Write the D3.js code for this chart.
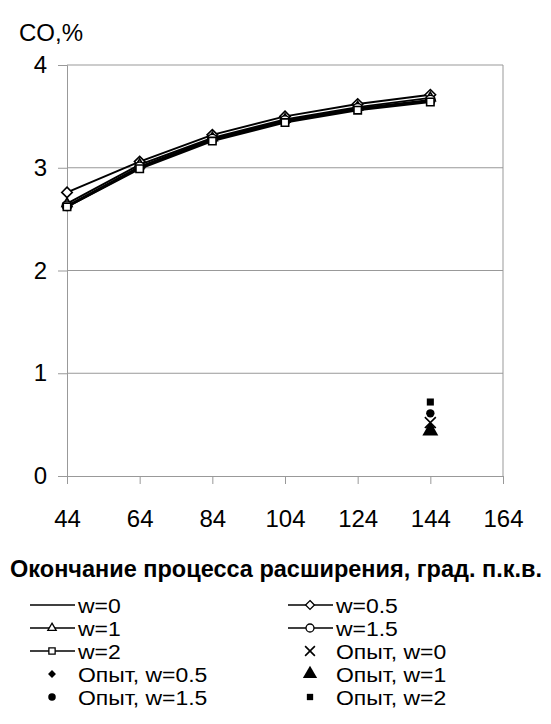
<!DOCTYPE html>
<html><head><meta charset="utf-8">
<script src="https://cdn.jsdelivr.net/npm/d3@7"></script>
<style>body{margin:0;background:#fff}svg{display:block}text{font-family:"Liberation Sans",Arial,sans-serif;fill:#000}</style>
</head><body><svg id="c" width="551" height="724"></svg>
<script>
const xCats = [44, 64, 84, 104, 124, 144];
const xTicks = [44, 64, 84, 104, 124, 144, 164];
const yTicks = [0, 1, 2, 3, 4];
const w0   = [2.62, 3.00, 3.27, 3.45, 3.57, 3.65];
const w05  = [2.76, 3.06, 3.32, 3.50, 3.62, 3.71];
const w1   = [2.65, 3.03, 3.29, 3.47, 3.59, 3.68];
const w15  = [2.63, 3.01, 3.28, 3.46, 3.58, 3.66];
const w2   = [2.62, 2.99, 3.26, 3.44, 3.56, 3.64];
const expX = 144;
const exp0 = 0.52, exp05 = 0.47, exp1 = 0.44, exp15 = 0.61, exp2 = 0.72;

const svg = d3.select("#c");
const x = d3.scaleLinear().domain([44, 164]).range([67, 503]);
const y = d3.scaleLinear().domain([0, 4]).range([476, 65]);
const grid = "#999";
const FONT = "Liberation Sans, Arial, sans-serif";

svg.append("g").selectAll("line").data(yTicks.slice(1)).join("line")
  .attr("x1", 67).attr("x2", 503).attr("y1", d => y(d)).attr("y2", d => y(d))
  .attr("stroke", grid).attr("stroke-width", 1);
svg.append("line").attr("x1", 503).attr("x2", 503).attr("y1", 65).attr("y2", 476).attr("stroke", grid);

const yAxis = svg.append("g").attr("transform", "translate(67,0)")
  .call(d3.axisLeft(y).tickValues(yTicks).tickSize(9).tickPadding(11).tickFormat(d3.format("d")));
const xAxis = svg.append("g").attr("transform", "translate(0,476)")
  .call(d3.axisBottom(x).tickValues(xTicks).tickSize(8).tickPadding(26).tickFormat(d3.format("d")));
[yAxis, xAxis].forEach(a => {
  a.select(".domain").attr("stroke", grid);
  a.selectAll(".tick line").attr("stroke", grid);
  a.selectAll(".tick text").attr("font-size", 24).attr("font-family", FONT);
});

svg.append("text").attr("x", 19).attr("y", 41).attr("font-size", 24).text("CO,%");
svg.append("text").attr("x", 276).attr("y", 577).attr("text-anchor", "middle")
  .attr("font-size", 23.5).attr("font-weight", "bold").text("Окончание процесса расширения, град. п.к.в.");

const line = d3.line().x((d, i) => x(xCats[i])).y(d => y(d));
const series = [
  {name: "w=0", vals: w0, sym: null},
  {name: "w=0.5", vals: w05, sym: d3.symbolDiamond2},
  {name: "w=1", vals: w1, sym: d3.symbolTriangle2},
  {name: "w=1.5", vals: w15, sym: d3.symbolCircle},
  {name: "w=2", vals: w2, sym: d3.symbolSquare2}
];
const symPath = (s, size) => d3.symbol().type(s).size(size)();
series.forEach(s => {
  svg.append("path").attr("d", line(s.vals)).attr("fill", "none").attr("stroke", "#000").attr("stroke-width", 2);
});
series.forEach(s => {
  if (!s.sym) return;
  svg.append("g").selectAll("path").data(s.vals).join("path")
    .attr("transform", (d, i) => `translate(${x(xCats[i])},${y(d)})`)
    .attr("d", symPath(s.sym, 70)).attr("fill", "#fff").attr("stroke", "#000").attr("stroke-width", 1.6);
});

const expts = [
  {name: "Опыт, w=0", v: exp0, kind: "x"},
  {name: "Опыт, w=0.5", v: exp05, kind: "diamond"},
  {name: "Опыт, w=1", v: exp1, kind: "tri"},
  {name: "Опыт, w=1.5", v: exp15, kind: "circle"},
  {name: "Опыт, w=2", v: exp2, kind: "square"}
];
function drawExp(g, kind, cx, cy, scale) {
  const k = scale || 1;
  if (kind === "x") {
    g.append("path").attr("d", symPath(d3.symbolX, 80 * k)).attr("transform", `translate(${cx},${cy})`)
      .attr("stroke", "#000").attr("stroke-width", 1.6).attr("fill", "none");
  } else {
    const t = {diamond: d3.symbolDiamond2, tri: d3.symbolTriangle, circle: d3.symbolCircle, square: d3.symbolSquare}[kind];
    const sz = {diamond: 50, tri: 110, circle: 55, square: 50}[kind] * k;
    g.append("path").attr("d", symPath(t, sz)).attr("transform", `translate(${cx},${cy})`).attr("fill", "#000");
  }
}
expts.forEach(e => drawExp(svg, e.kind, x(expX), y(e.v)));

const legend = [
  {name: "w=0", type: "line", sym: null},
  {name: "w=0.5", type: "line", sym: d3.symbolDiamond2},
  {name: "w=1", type: "line", sym: d3.symbolTriangle2},
  {name: "w=1.5", type: "line", sym: d3.symbolCircle},
  {name: "w=2", type: "line", sym: d3.symbolSquare2},
  {name: "Опыт, w=0", type: "pt", kind: "x"},
  {name: "Опыт, w=0.5", type: "pt", kind: "diamond"},
  {name: "Опыт, w=1", type: "pt", kind: "tri"},
  {name: "Опыт, w=1.5", type: "pt", kind: "circle"},
  {name: "Опыт, w=2", type: "pt", kind: "square"}
];
const lg = svg.append("g");
legend.forEach((e, i) => {
  const col = i % 2, row = Math.floor(i / 2);
  const lx = col === 0 ? 30 : 288, ly = 605 + row * 23;
  if (e.type === "line") {
    lg.append("line").attr("x1", lx).attr("x2", lx + 45).attr("y1", ly).attr("y2", ly).attr("stroke", "#000").attr("stroke-width", 1.5);
    if (e.sym) lg.append("path").attr("d", symPath(e.sym, 50)).attr("transform", `translate(${lx + 22},${ly})`)
      .attr("fill", "#fff").attr("stroke", "#000").attr("stroke-width", 1.3);
  } else {
    drawExp(lg, e.kind, lx + 22, ly, 0.8);
  }
  lg.append("text").attr("transform", `translate(${lx + 48},${ly + 7.5}) scale(1.12,1)`)
    .attr("font-size", 20.5).text(e.name);
});
</script></body></html>
